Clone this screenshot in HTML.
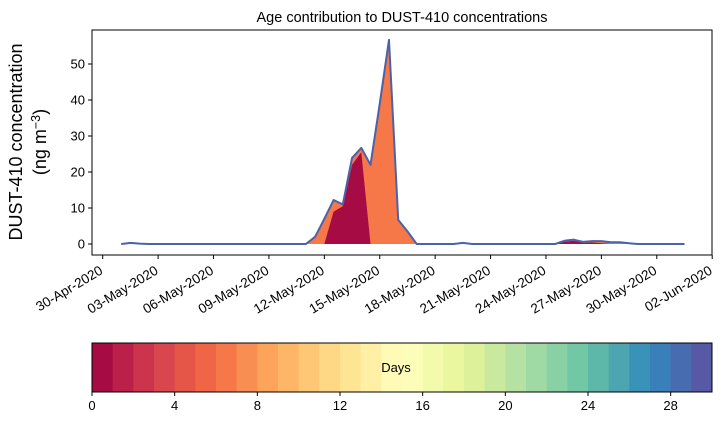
<!DOCTYPE html>
<html><head><meta charset="utf-8"><style>
html,body{margin:0;padding:0;background:#fff;}
svg{display:block;font-family:"Liberation Sans","DejaVu Sans",sans-serif;}
</style></head><body>
<svg id="chart" width="721" height="425" viewBox="0 0 721 425" xmlns="http://www.w3.org/2000/svg">
<text x="402" y="22" text-anchor="middle" font-size="14.5" fill="#000">Age contribution to DUST-410 concentrations</text>
<g>
<text transform="translate(22,142) rotate(-90)" text-anchor="middle" font-size="18" fill="#000">DUST-410 concentration</text>
<text transform="translate(46,142) rotate(-90)" text-anchor="middle" font-size="18" fill="#000">(ng m<tspan dy="-6" font-size="12.5">−3</tspan><tspan dy="6">)</tspan></text>
</g>
<g id="plot"></g>
<g id="colorbar"></g>
</svg>
<script>
const times = [1,1.5,2,2.5, 10.5,11,11.5,12,12.5,13,13.5,14,14.5,15,15.5,16,16.5,17, 19,19.5,20, 24.5,25,25.5,26,26.5,27,27.5,28,28.5,29, 31.5];
const totalConc = [0,0.3,0.1,0, 0,0,2,7,12.2,11,23.9,26.7,22,39,56.7,6.7,3.5,0, 0,0.3,0, 0,0.9,1.2,0.6,0.8,0.8,0.5,0.5,0.2,0, 0];
const recentConc = [0,0,0,0, 0,0,0,0,9,10.5,22,25.5,0,0,0,0,0,0, 0,0,0, 0,0.6,0.9,0.3,0.4,0.2,0,0,0,0,0];
const yTicks = [0,10,20,30,40,50];
const xTickDays = [0,3,6,9,12,15,18,21,24,27,30,33];
const xTickLabels = ["30-Apr-2020","03-May-2020","06-May-2020","09-May-2020","12-May-2020","15-May-2020","18-May-2020","21-May-2020","24-May-2020","27-May-2020","30-May-2020","02-Jun-2020"];
const cbTicks = [0,4,8,12,16,20,24,28];

const NS="http://www.w3.org/2000/svg";
const L=92,R=712,T=30,B=255;
const xS=d=>102.7+d*18.47;
const yS=v=>244-v*3.6;
function mk(tag,attrs,parent){const e=document.createElementNS(NS,tag);for(const k in attrs)e.setAttribute(k,attrs[k]);parent.appendChild(e);return e;}

const spectral=["#9e0142","#d53e4f","#f46d43","#fdae61","#fee08b","#ffffbf","#e6f598","#abdda4","#66c2a5","#3288bd","#5e4fa2"];
function hex(h){return [1,3,5].map(i=>parseInt(h.substr(i,2),16));}
function cmap(t){const p=t*10,i=Math.min(9,Math.floor(p)),f=p-i;const a=hex(spectral[i]),b=hex(spectral[i+1]);return "rgb("+a.map((v,k)=>Math.round(v+(b[k]-v)*f)).join(",")+")";}

const plot=document.getElementById('plot');
const orangeCol=cmap(6.5/30), redCol=cmap(0.5/30);
let pTot=times.map((t,i)=>xS(t)+","+yS(totalConc[i])).join(" ");
let base=times.map(t=>xS(t)+","+yS(0)).reverse().join(" ");
const aOr=mk('polygon',{points:pTot+" "+base,fill:orangeCol},plot);


let pRed=times.map((t,i)=>xS(t)+","+yS(recentConc[i])).join(" ");
const aRed=mk('polygon',{points:pRed+" "+base,fill:redCol},plot);


const line=mk('polyline',{points:pTot,fill:"none",stroke:"#4a62aa","stroke-width":2,"stroke-linejoin":"round"},plot);


const fr=mk('rect',{x:L,y:T,width:R-L,height:B-T,fill:"none",stroke:"#000","stroke-width":1},plot);


yTicks.forEach(v=>{
  const y=yS(v);
  mk('line',{x1:L-4,x2:L,y1:y,y2:y,stroke:"#000"},plot);
  const t=mk('text',{x:L-7,y:y+4.5,"text-anchor":"end","font-size":13},plot);
  t.textContent=v;
  
  
});
xTickDays.forEach((d,i)=>{
  const x=xS(d);
  mk('line',{x1:x,x2:x,y1:B,y2:B+4,stroke:"#000"},plot);
  const t=mk('text',{transform:`translate(${x+1},${B+18}) rotate(-31)`,"text-anchor":"end","font-size":13.5},plot);
  t.textContent=xTickLabels[i];
  
  
});
const cb=document.getElementById('colorbar');
const cbL=92,cbR=712,cbT=343,cbB=392,cw=(cbR-cbL)/30;
for(let i=0;i<30;i++){
  const r=mk('rect',{x:cbL+i*cw,y:cbT,width:cw+0.5,height:cbB-cbT,fill:cmap((i+0.5)/30)},cb);
  
  
}
mk('rect',{x:cbL,y:cbT,width:cbR-cbL,height:cbB-cbT,fill:"none",stroke:"#000"},cb);
const dl=mk('text',{x:396,y:372,"text-anchor":"middle","font-size":13},cb);
dl.textContent="Days";


cbTicks.forEach(v=>{
  const x=cbL+v*(cbR-cbL)/30;
  mk('line',{x1:x,x2:x,y1:cbB,y2:cbB+4,stroke:"#000"},cb);
  const t=mk('text',{x:x,y:cbB+18,"text-anchor":"middle","font-size":13},cb);
  t.textContent=v;
  
  
});
</script>
</body></html>
